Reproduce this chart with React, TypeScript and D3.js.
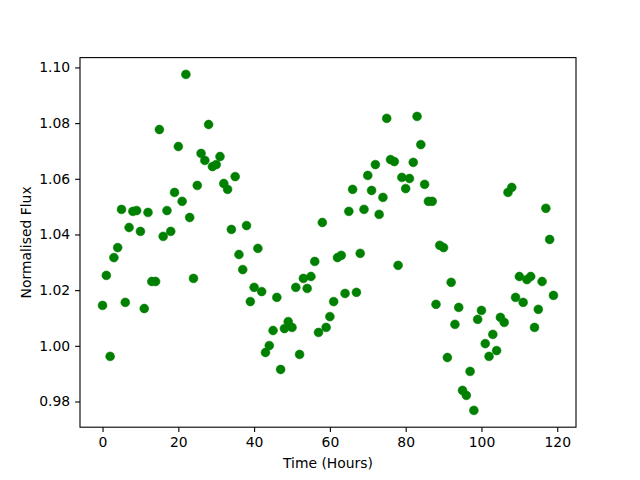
import * as d3 from "d3";
import React from "react";
import { useEffect, useRef } from "react";

// hours of observation
const hours: number[] = d3.range(0, 120);

// normalised flux
const flux: number[] = [
    1.0145, 1.0253, 0.9962, 1.0317, 1.0353, 1.0490, 1.0156, 1.0425, 1.0483, 1.0486,
    1.0411, 1.0134, 1.0479, 1.0231, 1.0231, 1.0777, 1.0393, 1.0486, 1.0411, 1.0551,
    1.0716, 1.0519, 1.0975, 1.0461, 1.0242, 1.0576, 1.0691, 1.0666, 1.0795, 1.0644,
    1.0651, 1.0680, 1.0583, 1.0562, 1.0418, 1.0608, 1.0328, 1.0274, 1.0432, 1.0159,
    1.0210, 1.0350, 1.0195, 0.9976, 1.0001, 1.0055, 1.0174, 0.9915, 1.0062, 1.0087,
    1.0066, 1.0210, 0.9969, 1.0242, 1.0206, 1.0249, 1.0303, 1.0048, 1.0443, 1.0066,
    1.0105, 1.0159, 1.0317, 1.0325, 1.0188, 1.0483, 1.0562, 1.0192, 1.0332, 1.0490,
    1.0612, 1.0558, 1.0651, 1.0472, 1.0533, 1.0817, 1.0669, 1.0662, 1.0289, 1.0605,
    1.0565, 1.0601, 1.0659, 1.0824, 1.0723, 1.0580, 1.0519, 1.0519, 1.0149, 1.0361,
    1.0353, 0.9958, 1.0228, 1.0077, 1.0138, 0.9840, 0.9822, 0.9908, 0.9768, 1.0095,
    1.0127, 1.0008, 0.9962, 1.0041, 0.9983, 1.0102, 1.0084, 1.0551, 1.0569, 1.0174,
    1.0249, 1.0156, 1.0238, 1.0249, 1.0066, 1.0131, 1.0231, 1.0494, 1.0382, 1.0181,
];

const xTicks: number[] = [0, 20, 40, 60, 80, 100, 120];
const yTicks: number[] = [0.98, 1.00, 1.02, 1.04, 1.06, 1.08, 1.10];

function padExtent(vals: number[]): [number, number] {
    const [lo, hi] = d3.extent(vals) as [number, number];
    const m = (hi - lo) * 0.05;
    return [lo - m, hi + m];
}

function drawChart(el: SVGSVGElement) {
    const width = 640;
    const height = 480;
    const margin = { top: 57.6, right: 64, bottom: 52.8, left: 80 };
    const font = "DejaVu Sans, sans-serif";

    const svg = d3.select(el)
        .attr("width", width)
        .attr("height", height)
        .style("display", "block");

    svg.selectAll("*").remove();

    svg.append("rect")
        .attr("width", width)
        .attr("height", height)
        .attr("fill", "#ffffff");

    const x = d3.scaleLinear()
        .domain(padExtent(hours))
        .range([margin.left, width - margin.right]);

    const y = d3.scaleLinear()
        .domain(padExtent(flux))
        .range([height - margin.bottom, margin.top]);

    // points
    svg.append("g")
        .selectAll("circle")
        .data(hours)
        .enter().append("circle")
        .attr("cx", (d) => x(d))
        .attr("cy", (d, i) => y(flux[i]))
        .attr("r", 4.4)
        .attr("fill", "#008000")
        .attr("stroke", "#008000")
        .attr("stroke-width", 0.6);

    const xAxis = d3.axisBottom(x)
        .tickValues(xTicks)
        .tickSize(4.9)
        .tickPadding(4.9)
        .tickFormat(d3.format("d") as any);

    const yAxis = d3.axisLeft(y)
        .tickValues(yTicks)
        .tickSize(4.9)
        .tickPadding(4.9)
        .tickFormat(d3.format(".2f") as any);

    const gx = svg.append("g")
        .attr("transform", `translate(0,${height - margin.bottom})`)
        .call(xAxis);

    const gy = svg.append("g")
        .attr("transform", `translate(${margin.left},0)`)
        .call(yAxis);

    [gx, gy].forEach((g) => {
        g.select(".domain").remove();
        g.selectAll("line").attr("stroke", "#000").attr("stroke-width", 1.1);
        g.selectAll("text")
            .attr("fill", "#000")
            .style("font-family", font)
            .style("font-size", "13.9px");
    });

    // frame
    svg.append("rect")
        .attr("x", margin.left)
        .attr("y", margin.top)
        .attr("width", width - margin.left - margin.right)
        .attr("height", height - margin.top - margin.bottom)
        .attr("fill", "none")
        .attr("stroke", "#000")
        .attr("stroke-width", 1.1);

    svg.append("text")
        .attr("x", (margin.left + width - margin.right) / 2)
        .attr("y", 468)
        .attr("text-anchor", "middle")
        .style("font-family", font)
        .style("font-size", "13.9px")
        .text("Time (Hours)");

    svg.append("text")
        .attr("transform", `translate(31,${(margin.top + height - margin.bottom) / 2}) rotate(-90)`)
        .attr("text-anchor", "middle")
        .style("font-family", font)
        .style("font-size", "13.9px")
        .text("Normalised Flux");
}

export default function App() {
    const ref = useRef<SVGSVGElement>(null);
    useEffect(() => {
        if (ref.current) drawChart(ref.current);
    });

    return (
        <div style={{ position: "absolute", left: 0, top: 0 }}>
            <svg ref={ref}></svg>
        </div>
    );
}
